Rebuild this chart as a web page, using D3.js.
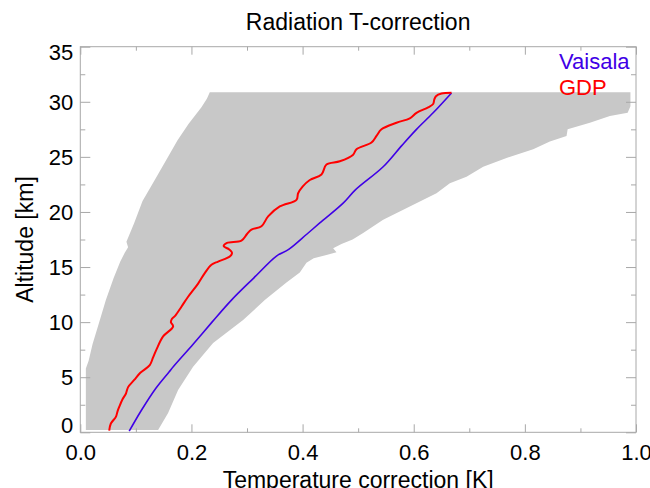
<!DOCTYPE html>
<html>
<head>
<meta charset="utf-8">
<script src="https://cdn.jsdelivr.net/npm/d3@7"></script>
<style>
  body { margin: 0; background: #fff; }
  svg { display: block; font-family: "Liberation Sans", Arial, Helvetica, sans-serif; }
  .axis path { display: none; }
  .axis line { stroke: #a8a8a8; }
  .axis text { fill: #000; font-size: 22px; font-family: "Liberation Sans", Arial, sans-serif; }
</style>
</head>
<body>
<div id="chart"></div>
<script>
// spread of corrections (grey band), left and right edges
var leftAlt = [0.2, 5.8, 6.5, 8, 10, 12, 14, 15.5, 16.3, 16.8, 17.3, 19, 21, 23, 25, 26.5, 28, 29.5, 30.3, 30.87];
var leftK   = [0.010, 0.010, 0.015, 0.022, 0.034, 0.046, 0.060, 0.072, 0.080, 0.086, 0.083, 0.097, 0.112, 0.135, 0.158, 0.175, 0.195, 0.218, 0.228, 0.233];

var rightAlt = [0.2, 1.75, 3.85, 5.96, 8.1, 10.2, 12.0, 13.6, 14.5, 15.4, 15.8, 16.1, 16.35, 16.7, 17.1, 17.5, 18.1, 19.3, 20.5, 21.7, 22.6, 23.2, 24.1, 24.9, 25.7, 26.4, 26.9, 27.5, 28.1, 28.7, 29.0, 29.6, 30.87];
var rightK   = [0.140, 0.158, 0.176, 0.203, 0.239, 0.293, 0.332, 0.371, 0.395, 0.407, 0.420, 0.443, 0.461, 0.455, 0.470, 0.490, 0.509, 0.545, 0.593, 0.641, 0.665, 0.695, 0.725, 0.767, 0.815, 0.845, 0.875, 0.877, 0.917, 0.953, 0.985, 0.990, 0.990];

// Vaisala correction profile
var vaisalaAlt = [0.1, 2, 4, 5.5, 6, 8, 10, 12, 14, 16, 16.6, 18, 19, 20.8, 22, 24.1, 26, 27.5, 29, 30.8];
var vaisalaK   = [0.088, 0.110, 0.136, 0.160, 0.168, 0.203, 0.237, 0.272, 0.312, 0.353, 0.375, 0.408, 0.431, 0.473, 0.495, 0.545, 0.578, 0.605, 0.635, 0.668];

// GDP correction profile
var gdpAlt = [0.15, 0.8, 1.4, 1.9, 2.3, 3.0, 3.5, 4.1, 4.75, 5.4, 6.1, 6.8, 7.5, 8.7, 9.6, 10.0, 10.3, 10.6, 11.4, 12.3, 13.5, 14.45, 15.2, 15.5, 15.95, 16.3, 16.6, 16.9, 17.2, 17.4, 18.0, 18.4, 18.7, 19.6, 20.5, 21.1, 21.7, 22.3, 22.9, 23.4, 24.3, 24.6, 25.2, 25.7, 26.3, 26.9, 27.5, 28.1, 28.5, 29.0, 29.5, 29.8, 30.2, 30.5, 30.75, 30.82];
var gdpK   = [0.052, 0.055, 0.064, 0.067, 0.070, 0.076, 0.082, 0.086, 0.097, 0.108, 0.125, 0.131, 0.137, 0.149, 0.167, 0.163, 0.165, 0.171, 0.182, 0.194, 0.212, 0.224, 0.236, 0.248, 0.269, 0.273, 0.268, 0.258, 0.264, 0.290, 0.300, 0.308, 0.326, 0.338, 0.359, 0.389, 0.392, 0.400, 0.413, 0.434, 0.443, 0.467, 0.491, 0.497, 0.524, 0.533, 0.542, 0.569, 0.593, 0.605, 0.626, 0.635, 0.637, 0.640, 0.650, 0.668];

var xMajor = [0, 0.2, 0.4, 0.6, 0.8, 1.0];
var xMinor = [0.1, 0.3, 0.5, 0.7, 0.9];
var yMajor = [0, 5, 10, 15, 20, 25, 30, 35];
var yMinor = [2.5, 7.5, 12.5, 17.5, 22.5, 27.5, 32.5];

var width = 650, height = 488;
var plotLeft = 80.3, plotRight = 636, plotTop = 46.7, plotBottom = 432.3;

var x = d3.scaleLinear().domain([0, 1]).range([plotLeft, plotRight]);
var y = d3.scaleLinear().domain([0, 35]).range([plotBottom, plotTop]);

var svg = d3.select("#chart")
    .append("svg")
    .attr("width", width)
    .attr("height", height);

// band polygon: left edge upward, right edge downward
var band = [];
leftAlt.forEach(function(a, i) { band.push([leftK[i], a]); });
for (var i = rightAlt.length - 1; i >= 0; i--) band.push([rightK[i], rightAlt[i]]);

var line = d3.line()
    .x(function(d) { return x(d[0]); })
    .y(function(d) { return y(d[1]); });

svg.append("path")
    .attr("d", line(band) + "Z")
    .attr("fill", "#c8c8c8")
    .attr("stroke", "none");

var smooth = d3.line()
    .x(function(d) { return x(d[0]); })
    .y(function(d) { return y(d[1]); })
    .curve(d3.curveCatmullRom.alpha(0.5));

svg.append("path")
    .attr("d", smooth(vaisalaAlt.map(function(a, i) { return [vaisalaK[i], a]; })))
    .attr("fill", "none")
    .attr("stroke", "#3f00e6")
    .attr("stroke-width", 1.6);

svg.append("path")
    .attr("d", smooth(gdpAlt.map(function(a, i) { return [gdpK[i], a]; })))
    .attr("fill", "none")
    .attr("stroke", "#ff0000")
    .attr("stroke-width", 2);

// axes box
svg.append("rect")
    .attr("x", plotLeft).attr("y", plotTop)
    .attr("width", plotRight - plotLeft).attr("height", plotBottom - plotTop)
    .attr("fill", "none")
    .attr("stroke", "#a8a8a8")
    .attr("stroke-width", 1);

svg.append("g").attr("class", "axis")
    .attr("transform", "translate(0," + plotBottom + ")")
    .call(d3.axisBottom(x).tickValues(xMajor).tickSize(-8).tickPadding(12).tickFormat(d3.format(".1f")));
svg.append("g").attr("class", "axis")
    .attr("transform", "translate(0," + plotBottom + ")")
    .call(d3.axisBottom(x).tickValues(xMinor).tickSize(-4).tickFormat(""));
svg.append("g").attr("class", "axis")
    .attr("transform", "translate(0," + plotTop + ")")
    .call(d3.axisTop(x).tickValues(xMajor).tickSize(-8).tickFormat(""));
svg.append("g").attr("class", "axis")
    .attr("transform", "translate(0," + plotTop + ")")
    .call(d3.axisTop(x).tickValues(xMinor).tickSize(-4).tickFormat(""));

var yl = svg.append("g").attr("class", "axis")
    .attr("transform", "translate(" + plotLeft + ",0)")
    .call(d3.axisLeft(y).tickValues(yMajor).tickSize(-10).tickPadding(7).tickFormat(d3.format("d")));
// edge labels sit inside the axis range
yl.selectAll("text")
    .attr("dy", function(d) { return d === 35 ? "0.6em" : (d === 0 ? "0em" : "0.34em"); });
svg.append("g").attr("class", "axis")
    .attr("transform", "translate(" + plotLeft + ",0)")
    .call(d3.axisLeft(y).tickValues(yMinor).tickSize(-5).tickFormat(""));
svg.append("g").attr("class", "axis")
    .attr("transform", "translate(" + plotRight + ",0)")
    .call(d3.axisRight(y).tickValues(yMajor).tickSize(-10).tickFormat(""));
svg.append("g").attr("class", "axis")
    .attr("transform", "translate(" + plotRight + ",0)")
    .call(d3.axisRight(y).tickValues(yMinor).tickSize(-5).tickFormat(""));

// titles
svg.append("text")
    .attr("x", (plotLeft + plotRight) / 2).attr("y", 30)
    .attr("text-anchor", "middle")
    .attr("font-size", 23)
    .text("Radiation T-correction");

svg.append("text")
    .attr("x", (plotLeft + plotRight) / 2).attr("y", 488)
    .attr("text-anchor", "middle")
    .attr("font-size", 23)
    .text("Temperature correction [K]");

svg.append("text")
    .attr("transform", "translate(33," + (plotTop + plotBottom) / 2 + ") rotate(-90)")
    .attr("text-anchor", "middle")
    .attr("font-size", 23)
    .text("Altitude [km]");

// legend
svg.append("text")
    .attr("x", 559).attr("y", 69)
    .attr("font-size", 22)
    .attr("fill", "#3f00e6")
    .text("Vaisala");
svg.append("text")
    .attr("x", 559).attr("y", 95)
    .attr("font-size", 22)
    .attr("fill", "#ff0000")
    .text("GDP");
</script>
</body>
</html>
